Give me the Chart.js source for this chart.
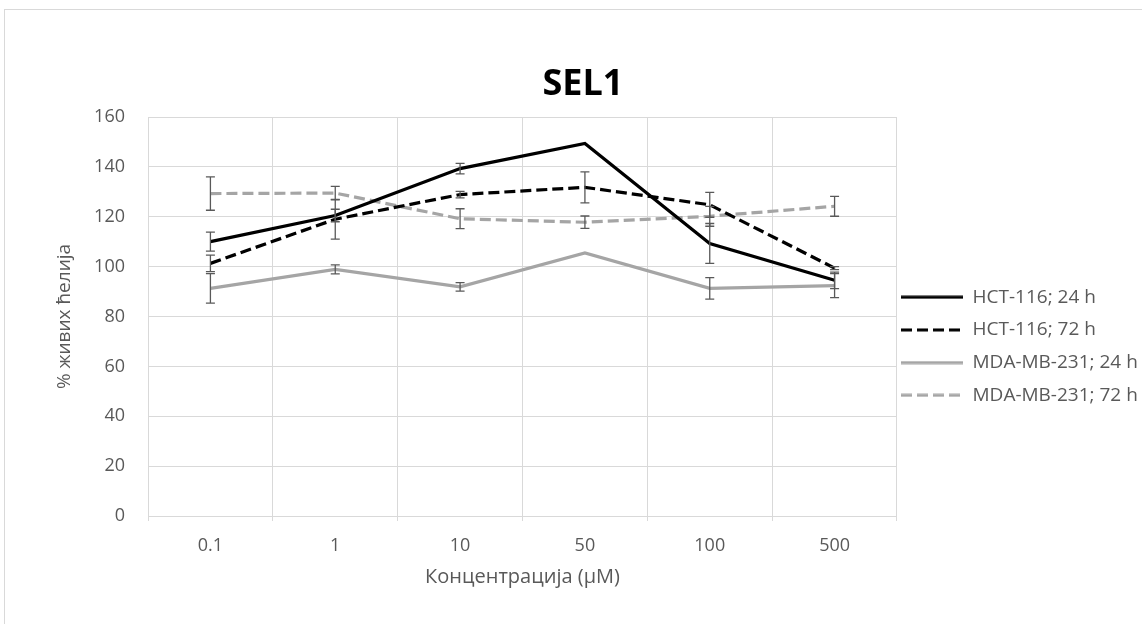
<!DOCTYPE html>
<html><head><meta charset="utf-8">
<script src="https://cdn.jsdelivr.net/npm/chart.js@4.4.1/dist/chart.umd.min.js"></script>
<style>
html,body{margin:0;padding:0;width:1142px;height:624px;overflow:hidden;background:#fff;}
#frame{position:absolute;left:4px;top:9px;width:2000px;height:2000px;border-left:1px solid #d9d9d9;border-top:1px solid #d9d9d9;}
#c{position:absolute;left:0;top:0;}
</style></head><body><div id="frame"></div><canvas id="c"></canvas>
<script>
// ---- data ----
const categories = ['0.1', '1', '10', '50', '100', '500'];
const seriesNames = ['HCT-116; 24 h', 'HCT-116; 72 h', 'MDA-MB-231; 24 h', 'MDA-MB-231; 72 h'];
const hct24 = [110, 120.5, 139.3, 149.4, 109.3, 94.5];
const hct24Err = [3.8, 2.5, 2.1, 0, 8, 3.3];
const hct72 = [101.3, 119, 128.9, 131.8, 124.8, 99.4];
const hct72Err = [3.3, 8, 1.3, 6.2, 5, 0.6];
const mda24 = [91.3, 98.9, 91.9, 105.5, 91.3, 92.4];
const mda24Err = [5.9, 1.8, 1.7, 0, 4.3, 4.8];
const mda72 = [129.3, 129.5, 119.2, 117.8, 120.2, 124.2];
const mda72Err = [6.7, 2.7, 4, 2.5, 4, 4];
const yMin = 0, yMax = 160, yStep = 20;
const titleText = 'SEL1';
const xTitle = 'Концентрација (µM)';
const yTitle = '% живих ћелија';

// ---- layout ----
const FONT = 'Open Sans';
const GREY_TXT = '#595959';
const GRID = '#d9d9d9';
const DASH = [11, 5];
const legendSize = 19, legendBox = 62, legendPad = 4;
const mc = document.createElement('canvas').getContext('2d');
mc.font = legendSize + 'px "' + FONT + '"';
const maxText = Math.max(...seriesNames.map(t => mc.measureText(t).width));
const legendW = legendPad + legendBox + legendSize / 2 + maxText + 10;
const plotL = 148, plotR = 897, plotT = 117, plotB = 516, H = 624;
const titleCX = 583;
const padL = Math.max(0, 2 * titleCX - plotR - legendW);
const W = Math.ceil(plotR + legendW);
const padR = W - plotR - legendW;
const padT = 10, padB = 20;
const yTitleSize = 19, xTitleSize = 20;

const canvas = document.getElementById('c');
canvas.width = W; canvas.height = H;
canvas.style.width = W + 'px'; canvas.style.height = H + 'px';

function legendLine(color, dash) {
  const c = document.createElement('canvas');
  c.width = legendBox; c.height = 4;
  const g = c.getContext('2d');
  g.strokeStyle = color; g.lineWidth = 3;
  g.setLineDash(dash);
  g.beginPath(); g.moveTo(0, 2); g.lineTo(legendBox, 2); g.stroke();
  return c;
}

const errorBars = {
  id: 'errorBars',
  afterDatasetsDraw(chart) {
    const {ctx, scales: {x, y}} = chart;
    ctx.save();
    ctx.strokeStyle = '#595959';
    ctx.lineWidth = 1.3;
    chart.data.datasets.forEach((ds, di) => {
      if (!chart.isDatasetVisible(di)) return;
      ds.data.forEach((v, i) => {
        const e = ds.errors[i];
        if (!e) return;
        const px = x.getPixelForValue(i);
        const t = y.getPixelForValue(v + e), b = y.getPixelForValue(v - e);
        ctx.beginPath();
        ctx.moveTo(px, t); ctx.lineTo(px, b);
        ctx.moveTo(px - 4.5, t); ctx.lineTo(px + 4.5, t);
        ctx.moveTo(px - 4.5, b); ctx.lineTo(px + 4.5, b);
        ctx.stroke();
      });
    });
    ctx.restore();
  }
};

function ds(label, data, errors, color, dash) {
  return {label, data, errors, borderColor: color, backgroundColor: color,
    borderWidth: 3.2, borderDash: dash, pointRadius: 0, pointHoverRadius: 0, tension: 0, fill: false};
}

new Chart(canvas, {
  type: 'line',
  data: {
    labels: categories,
    datasets: [
      ds(seriesNames[0], hct24, hct24Err, '#000000', []),
      ds(seriesNames[1], hct72, hct72Err, '#000000', DASH),
      ds(seriesNames[2], mda24, mda24Err, '#A5A5A5', []),
      ds(seriesNames[3], mda72, mda72Err, '#A5A5A5', DASH)
    ]
  },
  options: {
    responsive: false,
    animation: false,
    devicePixelRatio: 1,
    layout: {padding: {left: padL, right: padR, top: padT, bottom: padB}},
    plugins: {
      title: {
        display: true, text: titleText, color: '#000',
        font: {family: FONT, size: 36, weight: 'bold', lineHeight: 1.2},
        padding: {top: plotT - padT - 43.2 - 10.4, bottom: 10.4}
      },
      legend: {
        display: true, position: 'right', align: 'center',
        title: {display: true, text: ' ', font: {size: 12, lineHeight: 1}, padding: {top: 76.2, bottom: 0}},
        labels: {
          usePointStyle: true, pointStyle: 'line', pointStyleWidth: legendBox, boxWidth: legendBox,
          padding: legendPad, color: GREY_TXT,
          font: {family: FONT, size: legendSize, lineHeight: 28.7 / legendSize},
          generateLabels(chart) {
            return Chart.defaults.plugins.legend.labels.generateLabels(chart).map((l, i) => {
              const d = chart.data.datasets[i];
              return {...l, text: [l.text], pointStyle: legendLine(d.borderColor, d.borderDash)};
            });
          }
        }
      },
      tooltip: {enabled: false}
    },
    scales: {
      x: {
        type: 'category', offset: true,
        grid: {offset: true, color: GRID, lineWidth: 1, drawTicks: true, tickLength: 5},
        border: {display: false},
        ticks: {color: GREY_TXT, font: {family: FONT, size: 18}, padding: 14.2, maxRotation: 0},
        title: {display: true, text: xTitle, color: GREY_TXT, font: {family: FONT, size: xTitleSize, lineHeight: 1.2}, padding: {top: 0, bottom: 15}},
        afterFit(s) { s.height = H - padB - plotB; }
      },
      y: {
        min: yMin, max: yMax,
        grid: {color: GRID, lineWidth: 1, drawTicks: false},
        border: {display: false},
        ticks: {stepSize: yStep, color: GREY_TXT, font: {family: FONT, size: 18}, padding: 23},
        title: {display: true, text: yTitle, color: GREY_TXT, font: {family: FONT, size: yTitleSize, lineHeight: 1.2},
          padding: {top: 65 - padL - yTitleSize * 0.6, bottom: 0}},
        afterFit(s) { s.width = plotL - padL; }
      }
    }
  },
  plugins: [errorBars]
});
</script>
</body></html>
